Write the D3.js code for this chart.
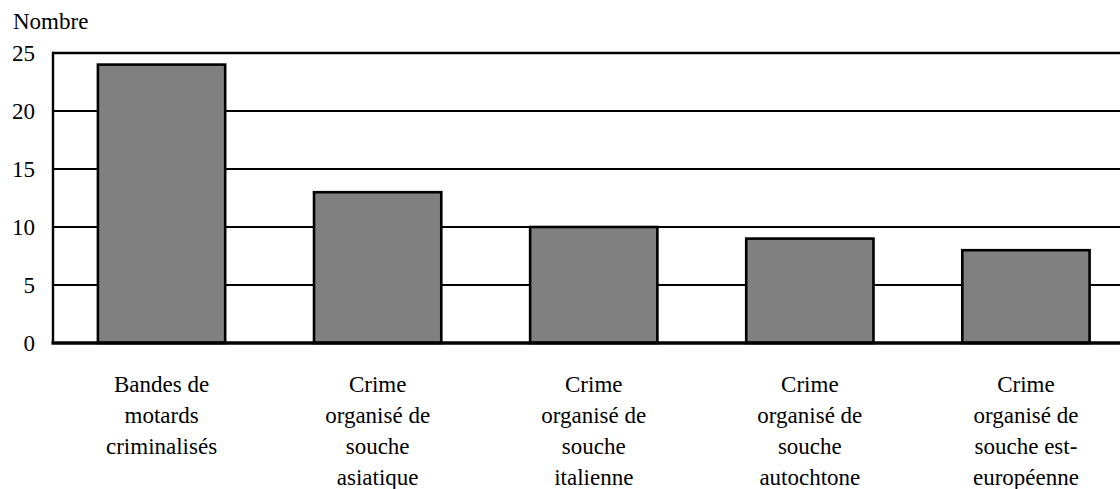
<!DOCTYPE html>
<html lang="fr">
<head>
<meta charset="utf-8">
<script src="https://cdn.jsdelivr.net/npm/d3@7"></script>
<style>
  html, body { margin: 0; padding: 0; background: #fff; }
  svg { display: block; }
  text { font-family: "Liberation Serif", "Times New Roman", serif; fill: #000; }
</style>
</head>
<body>
<svg id="chart" width="1120" height="489"></svg>
<script>
// Nombre de groupes par type de crime organisé
const categories = [
  "Bandes de\nmotards\ncriminalisés",
  "Crime\norganisé de\nsouche\nasiatique",
  "Crime\norganisé de\nsouche\nitalienne",
  "Crime\norganisé de\nsouche\nautochtone",
  "Crime\norganisé de\nsouche est-\neuropéenne"
];
const values = [24, 13, 10, 9, 8];
const yTicks = [0, 5, 10, 15, 20, 25];
const yTitle = "Nombre";

const svg = d3.select("#chart");
const W = 1120;
const FS = 23;

const x = d3.scaleBand()
  .domain(categories)
  .range([53.5, 1134])
  .paddingInner(0.4)
  .paddingOuter(0.2);

const y = d3.scaleLinear()
  .domain([0, 25])
  .range([343, 53]);

// horizontal gridlines (including the top border at 25)
svg.append("g")
  .selectAll("line")
  .data(yTicks.filter(d => d > 0))
  .join("line")
  .attr("x1", 53)
  .attr("x2", W)
  .attr("y1", d => y(d))
  .attr("y2", d => y(d))
  .attr("stroke", "#000")
  .attr("stroke-width", d => d === 25 ? 2.6 : 2.2);

// bars
svg.append("g")
  .selectAll("rect")
  .data(values)
  .join("rect")
  .attr("x", (d, i) => x(categories[i]) + 1.2)
  .attr("width", x.bandwidth() - 2.4)
  .attr("y", d => y(d))
  .attr("height", d => y(0) - y(d))
  .attr("fill", "#808080")
  .attr("stroke", "#000")
  .attr("stroke-width", 2.6);

// left axis line
svg.append("line")
  .attr("x1", 53).attr("x2", 53)
  .attr("y1", y(25) - 1.3).attr("y2", y(0))
  .attr("stroke", "#000")
  .attr("stroke-width", 2.4);

// baseline
svg.append("line")
  .attr("x1", 51.5).attr("x2", W)
  .attr("y1", y(0)).attr("y2", y(0))
  .attr("stroke", "#000")
  .attr("stroke-width", 3.6);

// y tick labels
const yAxis = d3.axisLeft(y).tickValues(yTicks).tickSize(0).tickPadding(0);
const gy = svg.append("g")
  .attr("transform", "translate(35,0)")
  .call(yAxis);
gy.select(".domain").remove();
gy.selectAll("text")
  .attr("font-family", "Liberation Serif, serif")
  .attr("font-size", FS)
  .attr("fill", "#000")
  .attr("dy", "0.34em");

// y title
svg.append("text")
  .attr("x", 13)
  .attr("y", 29)
  .attr("font-size", FS)
  .text(yTitle);

// category labels
const lab = svg.append("g")
  .selectAll("text")
  .data(categories)
  .join("text")
  .attr("text-anchor", "middle")
  .attr("font-size", FS)
  .attr("transform", d => `translate(${x(d) + x.bandwidth() / 2},392)`);
lab.selectAll("tspan")
  .data(d => d.split("\n"))
  .join("tspan")
  .attr("x", 0)
  .attr("y", (d, i) => i * 31)
  .text(d => d);
</script>
</body>
</html>
